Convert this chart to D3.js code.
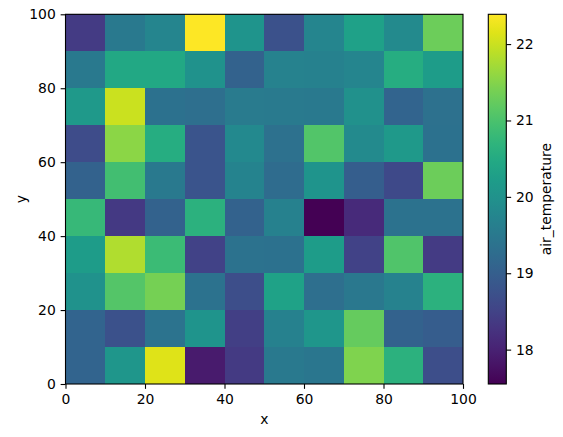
<!DOCTYPE html>
<html>
<head>
<meta charset="utf-8">
<script src="https://cdn.jsdelivr.net/npm/d3@7"></script>
<style>
  body { margin: 0; background: #fff; }
  svg { display: block; font-family: "DejaVu Sans", sans-serif; }
</style>
</head>
<body>
<div id="chart"></div>
<script>
// cell left edges along x, and cell bottom edges along y (top row first)
const xCells = [0, 10, 20, 30, 40, 50, 60, 70, 80, 90];
const yCells = [90, 80, 70, 60, 50, 40, 30, 20, 10, 0];

// air_temperature per cell, one array per row, top row (y 90-100) first
const row90 = [18.40, 19.50, 19.75, 22.39, 20.05, 18.75, 19.75, 20.30, 19.85, 21.30];
const row80 = [19.50, 20.45, 20.45, 20.00, 19.05, 19.70, 19.65, 19.75, 20.55, 20.20];
const row70 = [20.15, 22.00, 19.35, 19.30, 19.55, 19.53, 19.50, 19.98, 19.10, 19.33];
const row60 = [18.65, 21.55, 20.55, 18.80, 19.82, 19.33, 21.08, 19.85, 20.15, 19.35];
const row50 = [19.05, 20.93, 19.50, 18.80, 19.72, 19.25, 20.05, 18.98, 18.62, 21.30];
const row40 = [20.80, 18.35, 19.05, 20.65, 19.05, 19.65, 17.55, 18.12, 19.38, 19.38];
const row30 = [20.20, 21.82, 20.85, 18.50, 19.38, 19.35, 20.20, 18.50, 21.05, 18.40];
const row20 = [20.00, 21.10, 21.37, 19.38, 18.70, 20.33, 19.30, 19.48, 19.70, 20.65];
const row10 = [19.10, 18.75, 19.40, 20.05, 18.45, 19.65, 20.10, 21.25, 19.05, 18.95];
const row00 = [19.10, 20.10, 22.15, 17.90, 18.37, 19.50, 19.45, 21.45, 20.65, 18.70];
const rows = [row90, row80, row70, row60, row50, row40, row30, row20, row10, row00];

const axisTicks = [0, 20, 40, 60, 80, 100];
const colorTicks = [18, 19, 20, 21, 22];
const colorDomain = [17.55, 22.39];

const width = 563, height = 437;
const margin = { left: 65.5, right: 463, top: 14.3, bottom: 384 };
const cb = { left: 488.3, right: 506.3 };
const fontSize = 13.9;
const tickLen = 4.86;

const svg = d3.select("#chart").append("svg")
  .attr("width", width)
  .attr("height", height);

const x = d3.scaleLinear().domain([0, 100]).range([margin.left, margin.right]);
const y = d3.scaleLinear().domain([0, 100]).range([margin.bottom, margin.top]);
const color = d3.scaleSequential(d3.interpolateViridis).domain(colorDomain);

// flatten rows into cells
const cells = [];
rows.forEach((r, ri) => {
  r.forEach((v, ci) => {
    cells.push({ x0: xCells[ci], y0: yCells[ri], value: v });
  });
});

svg.append("g")
  .selectAll("rect")
  .data(cells)
  .enter()
  .append("rect")
  .attr("x", d => x(d.x0))
  .attr("y", d => y(d.y0 + 10))
  .attr("width", d => x(d.x0 + 10) - x(d.x0))
  .attr("height", d => y(d.y0) - y(d.y0 + 10))
  .attr("fill", d => color(d.value))
  .attr("shape-rendering", "crispEdges");

// axes
const styleAxis = (g) => {
  g.select(".domain").remove();
  g.selectAll(".tick line").attr("stroke", "#000").attr("stroke-width", 1.1);
  g.selectAll(".tick text")
    .attr("fill", "#000")
    .style("font-size", fontSize + "px")
    .style("font-family", "DejaVu Sans");
};

svg.append("g")
  .attr("transform", `translate(0,${margin.bottom})`)
  .call(d3.axisBottom(x).tickValues(axisTicks).tickSize(tickLen).tickPadding(tickLen))
  .call(styleAxis);

svg.append("g")
  .attr("transform", `translate(${margin.left},0)`)
  .call(d3.axisLeft(y).tickValues(axisTicks).tickSize(tickLen).tickPadding(tickLen))
  .call(styleAxis);

// frame
svg.append("rect")
  .attr("x", margin.left)
  .attr("y", margin.top)
  .attr("width", margin.right - margin.left)
  .attr("height", margin.bottom - margin.top)
  .attr("fill", "none")
  .attr("stroke", "#000")
  .attr("stroke-width", 1.1);

// axis labels
svg.append("text")
  .attr("x", (margin.left + margin.right) / 2)
  .attr("y", 424)
  .attr("text-anchor", "middle")
  .style("font-size", fontSize + "px")
  .text("x");

svg.append("text")
  .attr("transform", `translate(26,${(margin.top + margin.bottom) / 2}) rotate(-90)`)
  .attr("text-anchor", "middle")
  .style("font-size", fontSize + "px")
  .text("y");

// colorbar
const cbY = d3.scaleLinear().domain(colorDomain).range([margin.bottom, margin.top]);

const defs = svg.append("defs");
const grad = defs.append("linearGradient")
  .attr("id", "cbgrad")
  .attr("x1", 0).attr("y1", 1)
  .attr("x2", 0).attr("y2", 0);
d3.range(0, 1.0001, 0.05).forEach(t => {
  grad.append("stop")
    .attr("offset", t)
    .attr("stop-color", d3.interpolateViridis(t));
});

svg.append("rect")
  .attr("x", cb.left)
  .attr("y", margin.top)
  .attr("width", cb.right - cb.left)
  .attr("height", margin.bottom - margin.top)
  .attr("fill", "url(#cbgrad)")
  .attr("stroke", "#000")
  .attr("stroke-width", 1.1);

svg.append("g")
  .attr("transform", `translate(${cb.right},0)`)
  .call(d3.axisRight(cbY).tickValues(colorTicks).tickFormat(d3.format("d")).tickSize(tickLen).tickPadding(tickLen))
  .call(styleAxis);

svg.append("text")
  .attr("transform", `translate(551,${(margin.top + margin.bottom) / 2}) rotate(-90)`)
  .attr("text-anchor", "middle")
  .style("font-size", fontSize + "px")
  .text("air_temperature");
</script>
</body>
</html>
